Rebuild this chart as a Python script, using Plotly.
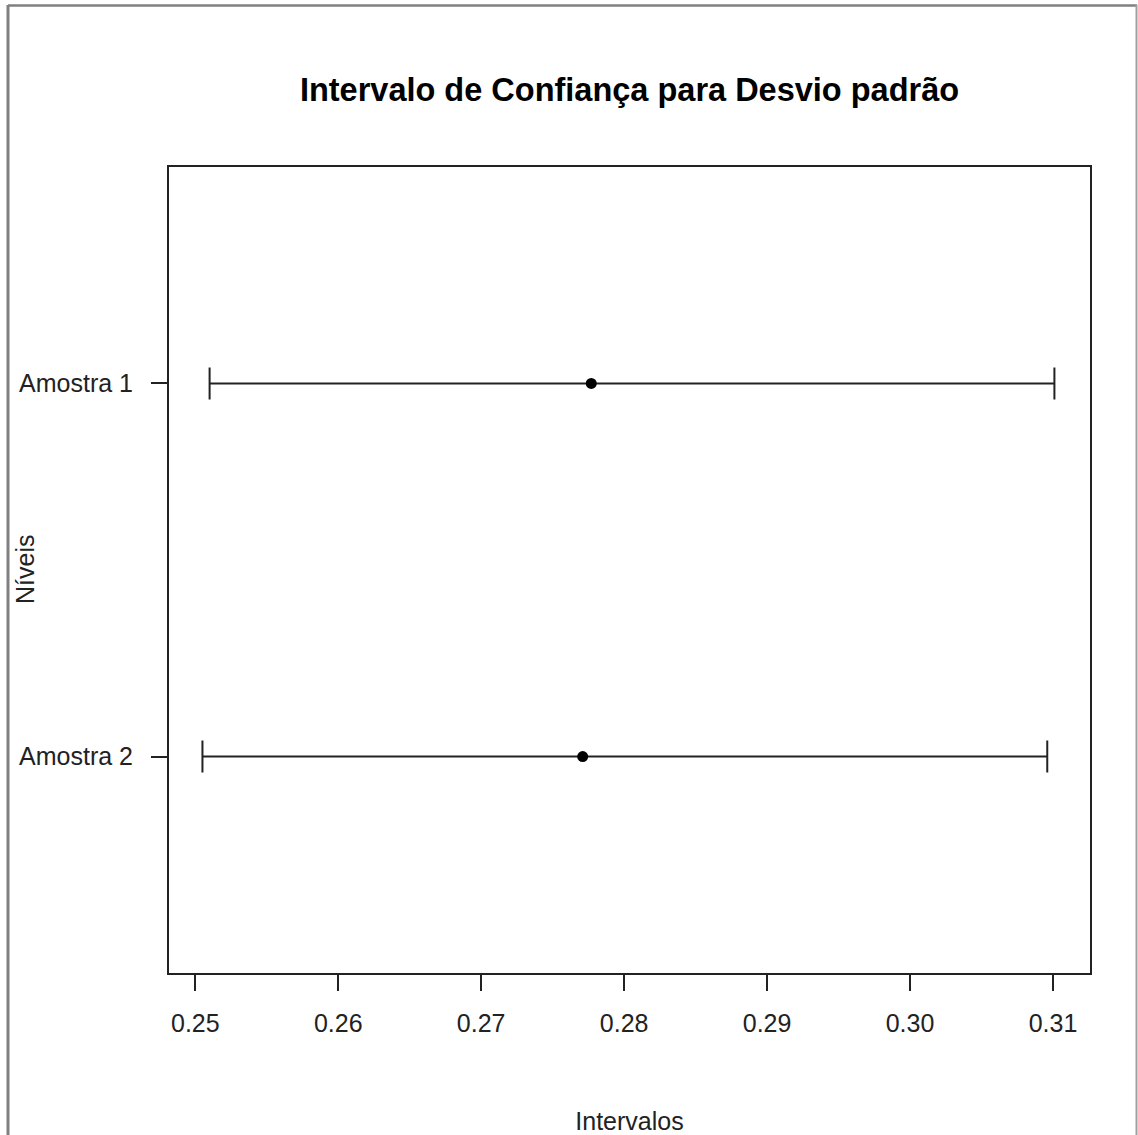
import plotly.graph_objects as go

# Data
categories = ["Amostra 1", "Amostra 2"]
estimates = [0.2777, 0.2771]
lower = [0.2510, 0.2505]
upper = [0.3101, 0.3096]
x_ticks = [0.25, 0.26, 0.27, 0.28, 0.29, 0.30, 0.31]
x_ticktext = ["0.25", "0.26", "0.27", "0.28", "0.29", "0.30", "0.31"]

W, H = 1138, 1135
ML, MR, MT, MB = 169, W - 1090, 167, H - 973
PW, PH = W - ML - MR, H - MT - MB

def px_x(x):
    return (x - ML) / PW

def px_y(y):
    return 1 - (y - MT) / PH

FONT = "Liberation Sans, Arial, sans-serif"
INK = "#222222"

fig = go.Figure()
fig.add_trace(go.Scatter(
    x=estimates,
    y=categories,
    mode="markers",
    marker=dict(color="black", size=11, symbol="circle"),
    error_x=dict(
        type="data",
        symmetric=False,
        array=[u - e for u, e in zip(upper, estimates)],
        arrayminus=[e - l for e, l in zip(estimates, lower)],
        color=INK,
        thickness=2,
        width=16,
    ),
    showlegend=False,
    hoverinfo="skip",
))

fig.update_layout(
    width=W,
    height=H,
    margin=dict(l=ML, r=MR, t=MT, b=MB, pad=0, autoexpand=False),
    paper_bgcolor="white",
    plot_bgcolor="white",
    font=dict(family=FONT, size=25, color=INK),
    title=dict(
        text="<b>Intervalo de Confiança para Desvio padrão</b>",
        x=px_x(629.5), xref="paper", xanchor="center",
        y=1 - 90 / H, yref="container", yanchor="middle",
        font=dict(family=FONT, size=32.5, color="black"),
    ),
    xaxis=dict(
        range=[0.24816, 0.31259],
        tickvals=x_ticks,
        ticktext=x_ticktext,
        ticks="outside",
        ticklen=16,
        tickwidth=1.8,
        tickcolor=INK,
        showline=True,
        linecolor=INK,
        linewidth=2,
        mirror=True,
        showgrid=False,
        zeroline=False,
        automargin=False,
        ticklabelstandoff=11,
        title=dict(text="Intervalos", standoff=83, font=dict(size=25, color=INK)),
    ),
    yaxis=dict(
        type="category",
        categoryorder="array",
        categoryarray=categories[::-1],
        range=[-0.58, 1.58],
        ticks="outside",
        ticklen=16,
        tickwidth=1.8,
        tickcolor=INK,
        showline=True,
        linecolor=INK,
        linewidth=2,
        mirror=True,
        showgrid=False,
        zeroline=False,
        automargin=False,
        ticklabelstandoff=13,
    ),
    annotations=[dict(
        text="Níveis",
        textangle=-90,
        xref="paper", yref="paper",
        x=px_x(25), y=px_y(570),
        xanchor="center", yanchor="middle",
        showarrow=False,
        font=dict(family=FONT, size=25, color=INK),
    )],
    shapes=[
        dict(type="line", xref="paper", yref="paper",
             x0=px_x(8), x1=px_x(8), y0=px_y(5), y1=px_y(H + 5),
             line=dict(color="#808080", width=3)),
        dict(type="line", xref="paper", yref="paper",
             x0=px_x(8), x1=px_x(1137), y0=px_y(5.5), y1=px_y(5.5),
             line=dict(color="#808080", width=2.5)),
        dict(type="line", xref="paper", yref="paper",
             x0=px_x(1136.5), x1=px_x(1136.5), y0=px_y(5), y1=px_y(H + 5),
             line=dict(color="#a0a0a0", width=2)),
    ],
)

fig.write_html(
    "out.html",
    config={"displayModeBar": False},
    post_script="document.body.style.margin='0px';document.body.style.overflow='hidden';",
)
